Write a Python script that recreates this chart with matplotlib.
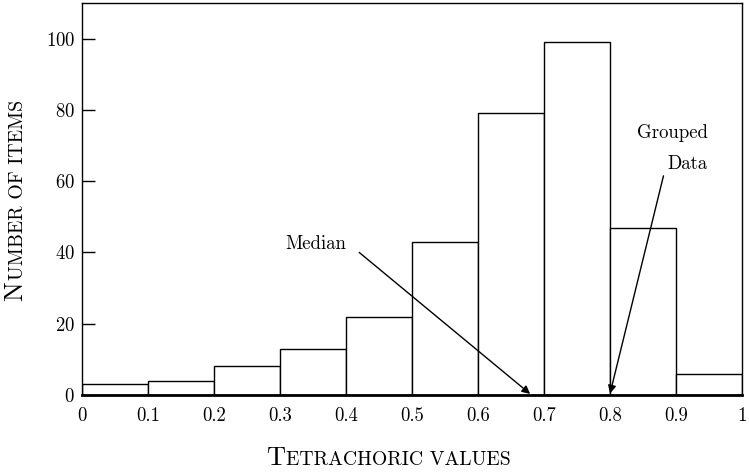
import matplotlib
matplotlib.use("Agg")
import matplotlib.pyplot as plt
import numpy as np

plt.rcParams['font.family'] = 'cmr10'
plt.rcParams['mathtext.fontset'] = 'cm'
plt.rcParams['axes.formatter.use_mathtext'] = True

bin_edges = [0, 0.1, 0.2, 0.3, 0.4, 0.5, 0.6, 0.7, 0.8, 0.9, 1.0]
counts = [3, 4, 8, 13, 22, 43, 79, 99, 47, 6]
xtick_vals = [0, 0.1, 0.2, 0.3, 0.4, 0.5, 0.6, 0.7, 0.8, 0.9, 1]
xtick_labels = ["0", "0.1", "0.2", "0.3", "0.4", "0.5", "0.6", "0.7", "0.8", "0.9", "1"]
ytick_vals = [0, 20, 40, 60, 80, 100]

fig = plt.figure(figsize=(7.49, 4.73), dpi=100)
ax = fig.add_axes([0.1095, 0.1649, 0.8812, 0.8288])

widths = np.diff(bin_edges)
ax.bar(bin_edges[:-1], counts, width=widths, align='edge', color='white',
       edgecolor='black', linewidth=1.0, zorder=2)

ax.set_xlim(0, 1)
ax.set_ylim(0, 110)
ax.set_xticks(xtick_vals)
ax.set_xticklabels(xtick_labels)
ax.set_yticks(ytick_vals)
ax.tick_params(axis='y', direction='in', length=9, width=1, labelsize=13.5, pad=5, right=False)
ax.tick_params(axis='x', direction='in', length=0, labelsize=13.5, pad=9)
for s in ['top', 'right', 'left']:
    ax.spines[s].set_linewidth(1.0)
ax.spines['bottom'].set_linewidth(2.0)
ax.spines['bottom'].set_zorder(3)

# annotations
ax.annotate("", xy=(0.679, 0.3), xytext=(0.42, 40),
            arrowprops=dict(arrowstyle='-|>', color='black', lw=1.0,
                            mutation_scale=12, shrinkA=0, shrinkB=0), zorder=5)
ax.text(0.40, 42.3, "Median", ha='right', va='center', fontsize=13.5)
ax.annotate("", xy=(0.8, 0.4), xytext=(0.881, 61.5),
            arrowprops=dict(arrowstyle='-|>', color='black', lw=1.0,
                            mutation_scale=12, shrinkA=0, shrinkB=0), zorder=5)
ax.text(0.948, 73.6, "Grouped", ha='right', va='center', fontsize=13.5)
ax.text(0.948, 64.9, "Data", ha='right', va='center', fontsize=13.5)

# small caps labels
big = 19
small = 14.2
fig.canvas.draw()
r = fig.canvas.get_renderer()
t1 = fig.text(0, 0, "T", fontsize=big, va='baseline', ha='left')
t2 = fig.text(0, 0, "ETRACHORIC VALUES", fontsize=small, va='baseline', ha='left')
w1 = t1.get_window_extent(r).width
w2 = t2.get_window_extent(r).width
total = w1 + w2
x0 = 388 - total / 2
ybase = 473 - 465
t1.set_position((x0 / 749, ybase / 473))
t2.set_position(((x0 + w1 + 1) / 749, ybase / 473))

# y label
s1 = fig.text(0, 0, "N", fontsize=big, rotation=90, va='bottom', ha='left', rotation_mode='anchor')
s2 = fig.text(0, 0, "UMBER OF ITEMS", fontsize=small, rotation=90, va='bottom', ha='left', rotation_mode='anchor')
h1 = s1.get_window_extent(r).height
h2 = s2.get_window_extent(r).height
totalh = h1 + h2
yc = 473 - 201
y0 = yc - totalh / 2
xbase = 27
s1.set_position((xbase / 749, y0 / 473))
s2.set_position((xbase / 749, (y0 + h1 + 1) / 473))

fig.savefig("out.png", dpi=100)
